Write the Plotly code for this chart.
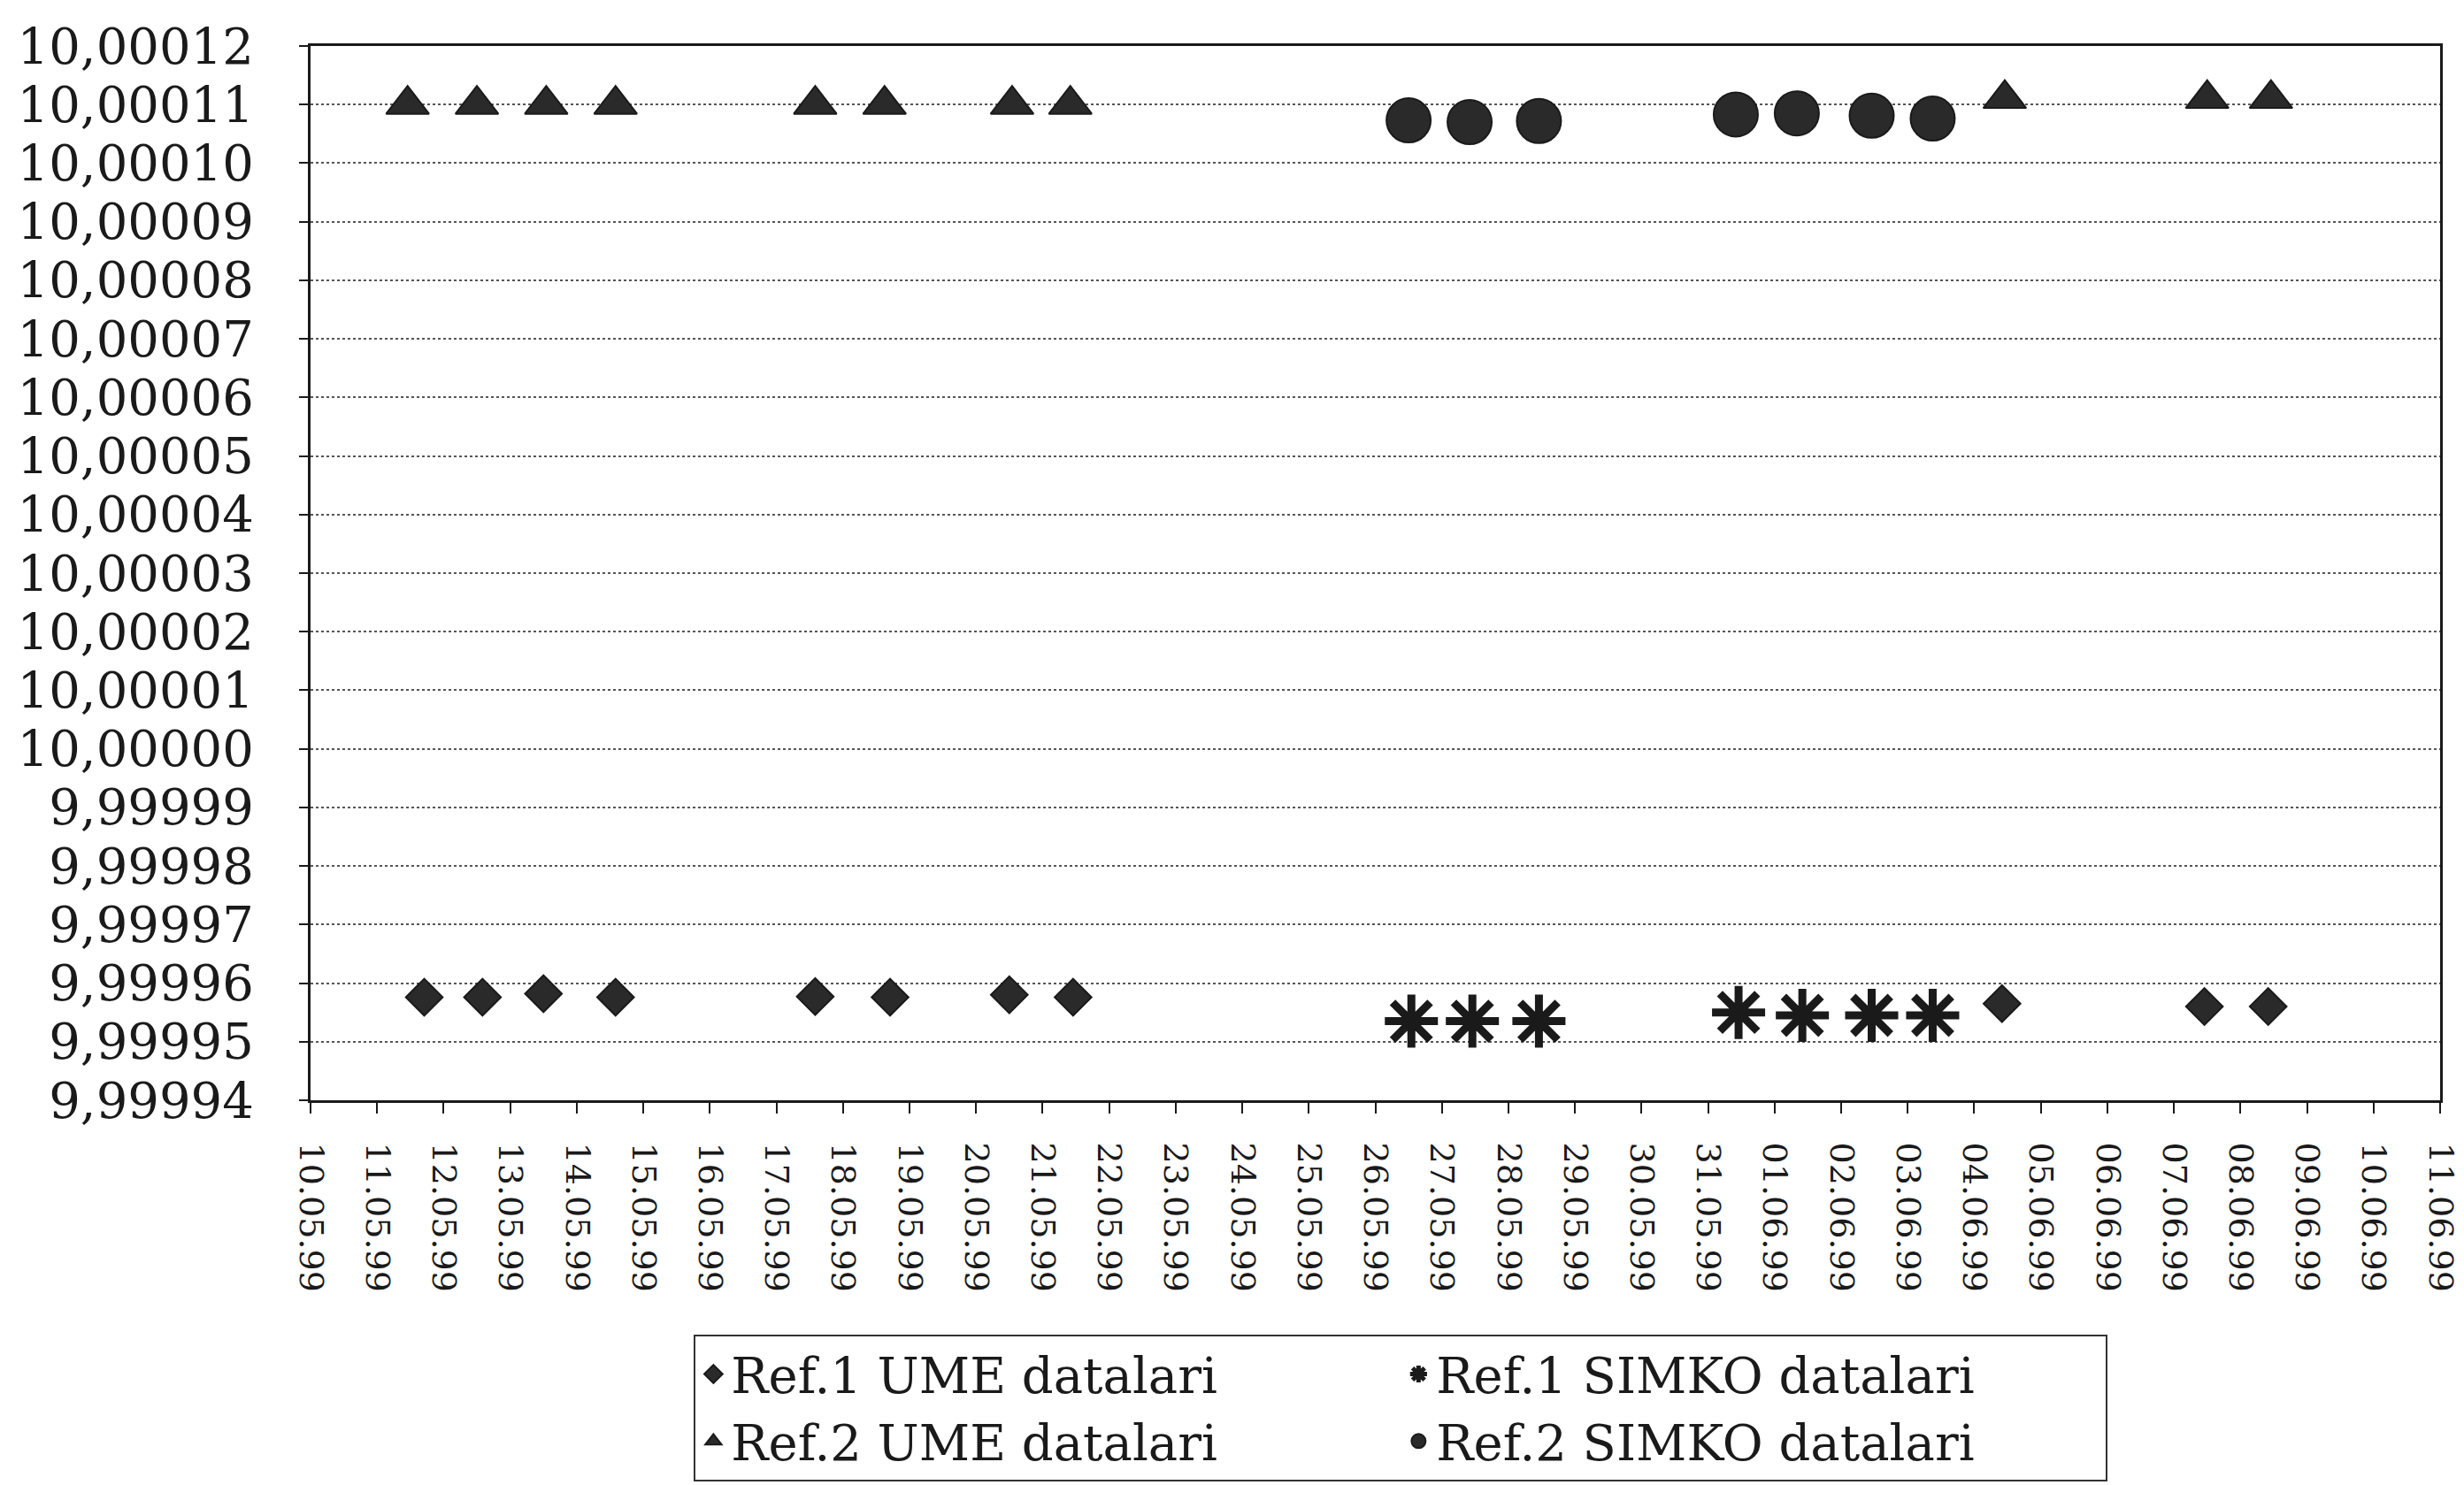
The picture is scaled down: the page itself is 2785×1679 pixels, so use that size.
import plotly.graph_objects as go

# ---- data ----
ref1_ume_dates = ["1999-05-11 17:00", "1999-05-12 14:00", "1999-05-13 12:00", "1999-05-14 14:00",
                  "1999-05-17 14:00", "1999-05-18 17:00", "1999-05-20 12:00", "1999-05-21 11:00",
                  "1999-06-04 10:00", "1999-06-07 11:00", "1999-06-08 10:00"]
ref1_ume_vals = [9.9999576, 9.9999576, 9.9999582, 9.9999576, 9.9999577, 9.9999576, 9.999958, 9.9999576,
                 9.9999565, 9.999956, 9.999956]

ref1_simko_dates = ["1999-05-26 13:00", "1999-05-27 11:00", "1999-05-28 11:00", "1999-05-31 11:00",
                    "1999-06-01 10:00", "1999-06-02 11:00", "1999-06-03 09:00"]
ref1_simko_vals = [9.9999535, 9.9999535, 9.9999535, 9.999955, 9.9999545, 9.9999545, 9.9999545]

ref2_ume_dates = ["1999-05-11 11:00", "1999-05-12 12:00", "1999-05-13 13:00", "1999-05-14 14:00",
                  "1999-05-17 14:00", "1999-05-18 15:00", "1999-05-20 13:00", "1999-05-21 10:00",
                  "1999-06-04 11:00", "1999-06-07 12:00", "1999-06-08 11:00"]
ref2_ume_vals = [10.00011, 10.00011, 10.00011, 10.00011, 10.00011, 10.00011, 10.00011, 10.00011,
                 10.000111, 10.000111, 10.000111]

ref2_simko_dates = ["1999-05-26 12:00", "1999-05-27 10:00", "1999-05-28 11:00", "1999-05-31 10:00",
                    "1999-06-01 08:00", "1999-06-02 11:00", "1999-06-03 09:00"]
ref2_simko_vals = [10.0001073, 10.000107, 10.0001072, 10.0001083, 10.0001085, 10.0001081, 10.0001076]

series_names = ["Ref.1 UME datalari", "Ref.1 SIMKO datalari", "Ref.2 UME datalari", "Ref.2 SIMKO datalari"]

x_range = ["1999-05-10", "1999-06-11"]
y_range = [9.99994, 10.00012]

FONT = "DejaVu Serif"
INK = "#1a1a1a"

fig = go.Figure()
fig.add_trace(go.Scatter(x=ref1_ume_dates, y=ref1_ume_vals, mode="markers", name=series_names[0],
                         marker=dict(symbol="diamond", size=32, color="#2a2a2a",
                                     line=dict(color=INK, width=2))))
fig.add_trace(go.Scatter(x=ref1_simko_dates, y=ref1_simko_vals, mode="markers", name=series_names[1],
                         marker=dict(symbol="asterisk-open", size=50, color=INK,
                                     line=dict(color=INK, width=9))))
fig.add_trace(go.Scatter(x=ref2_ume_dates, y=ref2_ume_vals, mode="markers", name=series_names[2],
                         marker=dict(symbol="triangle-up", size=42, color="#2a2a2a",
                                     line=dict(color=INK, width=2))))
fig.add_trace(go.Scatter(x=ref2_simko_dates, y=ref2_simko_vals, mode="markers", name=series_names[3],
                         marker=dict(symbol="circle", size=50, color="#2a2a2a",
                                     line=dict(color=INK, width=2))))

fig.update_layout(
    width=2785, height=1679,
    paper_bgcolor="white", plot_bgcolor="white",
    margin=dict(l=340, r=34, t=36, b=439),
    separators=",.",
    font=dict(family=FONT, color=INK),
    showlegend=True,
    legend=dict(orientation="h", x=0.528, xanchor="center", y=-0.222, yanchor="top",
                entrywidth=752, entrywidthmode="pixels",
                font=dict(family=FONT, size=56, color=INK),
                bgcolor="white", bordercolor="#333", borderwidth=2,
                itemsizing="trace", tracegroupgap=0),
)

fig.update_xaxes(
    type="date", range=x_range, dtick=86400000, tick0="1999-05-10",
    tickformat="%d.%m.%y", tickangle=90,
    tickfont=dict(family=FONT, size=38, color=INK),
    ticks="outside", ticklen=12, tickwidth=2, tickcolor=INK,
    ticklabelstandoff=25,
    showgrid=False, zeroline=False,
    showline=True, linecolor=INK, linewidth=3, mirror=True,
)
fig.update_yaxes(
    range=y_range, dtick=0.00001, tick0=9.99994, tickformat=".5f",
    tickfont=dict(family=FONT, size=56, color=INK),
    ticks="outside", ticklen=10, tickwidth=2, tickcolor=INK,
    ticklabelstandoff=40,
    showgrid=True, gridcolor="#555", gridwidth=2, griddash="dot",
    zeroline=False,
    showline=True, linecolor=INK, linewidth=3, mirror=True,
)

fig.write_html("out.html")
